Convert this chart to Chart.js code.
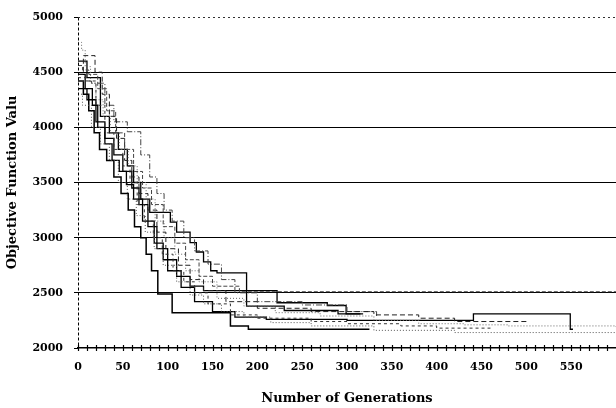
<!DOCTYPE html>
<html>
<head>
<meta charset="utf-8">
<script src="https://cdn.jsdelivr.net/npm/chart.js@4.4.1/dist/chart.umd.min.js"></script>
<style>
  html, body { margin: 0; padding: 0; background: #fff; overflow: hidden; }
  canvas { display: block; }
</style>
</head>
<body>
<canvas id="ga-chart" width="616" height="408"></canvas>
<script>
// tick labels
const xLabels = [0, 50, 100, 150, 200, 250, 300, 350, 400, 450, 500, 550];
const yTicks = [2000, 2500, 3000, 3500, 4000, 4500, 5000];

// ten GA runs: generation where the best value changes, and the new value
const run1Gen = [0, 6, 12, 18, 24, 32, 40, 48, 56, 63, 70, 76, 82, 89, 105, 170, 190, 325];
const run1Val = [4420, 4300, 4150, 3950, 3800, 3700, 3550, 3400, 3250, 3100, 3000, 2850, 2700, 2490, 2320, 2200, 2170, 2170];

const run2Gen = [0, 10, 25, 35, 45, 55, 62, 70, 80, 103, 110, 125, 132, 140, 148, 155, 188, 230, 290, 315];
const run2Val = [4600, 4450, 4100, 3950, 3800, 3650, 3500, 3350, 3230, 3140, 3050, 2955, 2870, 2780, 2700, 2680, 2380, 2340, 2310, 2310];

const run3Gen = [0, 8, 16, 22, 30, 38, 46, 54, 62, 72, 85, 95, 110, 125, 140, 222, 278, 299, 318];
const run3Val = [4480, 4350, 4200, 4000, 3850, 3700, 3600, 3480, 3350, 3150, 2950, 2800, 2650, 2560, 2520, 2410, 2385, 2310, 2310];

const run4Gen = [0, 10, 20, 30, 40, 50, 60, 68, 78, 88, 100, 115, 130, 150, 175, 210, 300, 441, 549, 552];
const run4Val = [4350, 4250, 4050, 3900, 3750, 3600, 3450, 3300, 3100, 2900, 2700, 2550, 2420, 2330, 2280, 2260, 2250, 2310, 2170, 2170];

const run5Gen = [0, 6, 19, 27, 35, 43, 52, 60, 68, 78, 88, 98, 112, 125, 140, 165, 200, 260, 330, 380, 420, 500];
const run5Val = [4480, 4650, 4500, 4300, 4100, 3900, 3700, 3550, 3400, 3250, 3050, 2900, 2750, 2620, 2520, 2420, 2360, 2330, 2300, 2270, 2240, 2230];

const run6Gen = [0, 5, 12, 22, 32, 42, 52, 62, 72, 82, 95, 108, 120, 135, 150, 180, 600];
const run6Val = [4560, 4520, 4480, 4350, 4150, 3950, 3800, 3600, 3450, 3300, 3100, 2950, 2800, 2650, 2560, 2510, 2510];

const run7Gen = [0, 4, 8, 14, 20, 28, 36, 46, 56, 66, 76, 86, 96, 108, 120, 135, 155, 185, 220, 270, 330, 380, 430, 480, 600];
const run7Val = [4770, 4700, 4550, 4400, 4250, 4100, 3950, 3800, 3650, 3500, 3350, 3150, 3000, 2850, 2700, 2600, 2450, 2380, 2320, 2290, 2250, 2220, 2210, 2200, 2190];

const run8Gen = [0, 15, 30, 40, 55, 70, 80, 88, 96, 105, 118, 130, 145, 160, 175, 200, 250, 300, 333];
const run8Val = [4420, 4400, 4200, 4050, 3960, 3750, 3550, 3400, 3250, 3150, 3000, 2880, 2760, 2620, 2500, 2420, 2390, 2330, 2290];

const run9Gen = [0, 5, 15, 25, 35, 45, 55, 65, 75, 85, 95, 110, 125, 140, 160, 185, 215, 260, 330, 420, 600];
const run9Val = [4300, 4200, 4000, 3850, 3700, 3500, 3350, 3200, 3050, 2900, 2750, 2600, 2480, 2400, 2330, 2280, 2230, 2200, 2160, 2140, 2140];

const run10Gen = [0, 10, 20, 30, 40, 50, 58, 66, 74, 84, 94, 106, 118, 130, 145, 170, 200, 260, 300, 360, 400, 460];
const run10Val = [4450, 4420, 4200, 3950, 3800, 3650, 3500, 3300, 3150, 3000, 2850, 2700, 2600, 2500, 2400, 2300, 2270, 2240, 2220, 2200, 2180, 2180];

const SERIF = "'DejaVu Serif', 'Liberation Serif', serif";

function run(gens, vals, color, width, dash) {
  return {
    data: gens.map((g, i) => ({ x: g, y: vals[i] })),
    borderColor: color,
    borderWidth: width,
    borderDash: dash,
    stepped: true,
    pointRadius: 0,
    fill: false
  };
}

// dashed y axis, dotted top line, crossing x ticks
const axisDecor = {
  id: 'axisDecor',
  afterDraw(chart) {
    const { ctx, chartArea: a, scales: { x, y } } = chart;
    const top = Math.round(y.getPixelForValue(5000)) + 0.5;
    ctx.save();
    ctx.strokeStyle = '#000';
    ctx.lineWidth = 1;
    ctx.setLineDash([3, 2]);
    ctx.beginPath();
    ctx.moveTo(Math.round(a.left) + 0.5, top);
    ctx.lineTo(Math.round(a.left) + 0.5, a.bottom);
    ctx.stroke();
    ctx.setLineDash([2, 3]);
    ctx.strokeStyle = '#333';
    ctx.beginPath();
    ctx.moveTo(a.left, top);
    ctx.lineTo(a.right, top);
    ctx.stroke();
    ctx.setLineDash([]);
    ctx.strokeStyle = '#000';
    ctx.lineWidth = 1.2;
    x.ticks.forEach(t => {
      if (t.value >= 600) return;
      const px = Math.round(x.getPixelForValue(t.value)) + 0.5;
      ctx.beginPath();
      ctx.moveTo(px, a.bottom - 3);
      ctx.lineTo(px, a.bottom + 3);
      ctx.stroke();
    });
    ctx.restore();
  }
};

new Chart(document.getElementById('ga-chart'), {
  type: 'line',
  data: {
    datasets: [
      run(run6Gen, run6Val, '#444', 1, [4, 2]),
      run(run7Gen, run7Val, '#666', 1, [1, 2]),
      run(run9Gen, run9Val, '#555', 1, [1, 2]),
      run(run10Gen, run10Val, '#333', 1, [3, 3]),
      run(run5Gen, run5Val, '#222', 1, [5, 3]),
      run(run8Gen, run8Val, '#444', 1, [6, 2, 1, 2]),
      run(run3Gen, run3Val, '#000', 1.3, []),
      run(run4Gen, run4Val, '#000', 1.3, []),
      run(run2Gen, run2Val, '#000', 1.3, []),
      run(run1Gen, run1Val, '#000', 1.5, [])
    ]
  },
  options: {
    responsive: false,
    animation: false,
    layout: { autoPadding: false, padding: { top: 17, right: 0, left: 0, bottom: 0 } },
    plugins: { legend: { display: false }, tooltip: { enabled: false } },
    scales: {
      x: {
        type: 'linear',
        min: 0,
        max: 600,
        grid: { display: false, drawTicks: false },
        border: { display: true, color: '#000', width: 1.5 },
        ticks: {
          stepSize: 10,
          autoSkip: false,
          maxRotation: 0,
          padding: 13,
          color: '#000',
          font: { family: SERIF, size: 11, weight: 'bold' },
          callback: v => xLabels.includes(v) ? String(v) : ''
        },
        title: {
          display: true,
          text: 'Number of Generations',
          color: '#000',
          font: { family: SERIF, size: 13, weight: 'bold' },
          padding: { top: 0, bottom: 2 }
        },
        afterFit: s => { s.height = 60; s.paddingLeft = 0; s.paddingRight = 0; }
      },
      y: {
        min: yTicks[0],
        max: yTicks[yTicks.length - 1],
        afterBuildTicks: s => { s.ticks = yTicks.map(v => ({ value: v })); },
        grid: {
          color: c => (c.tick && (c.tick.value === 5000 || c.tick.value === 2000)) ? 'rgba(0,0,0,0)' : '#000',
          lineWidth: 1,
          tickColor: '#000',
          tickLength: 4,
          drawTicks: true
        },
        border: { display: false },
        ticks: {
          padding: 11,
          color: '#000',
          font: { family: SERIF, size: 11, weight: 'bold' },
          callback: v => String(v)
        },
        title: {
          display: true,
          text: 'Objective Function Valu',
          color: '#000',
          font: { family: SERIF, size: 13, weight: 'bold' },
          padding: { top: 5, bottom: 0 }
        },
        afterFit: s => { s.width = 78; s.paddingTop = 0; s.paddingBottom = 0; }
      }
    }
  },
  plugins: [axisDecor]
});
</script>
</body>
</html>
